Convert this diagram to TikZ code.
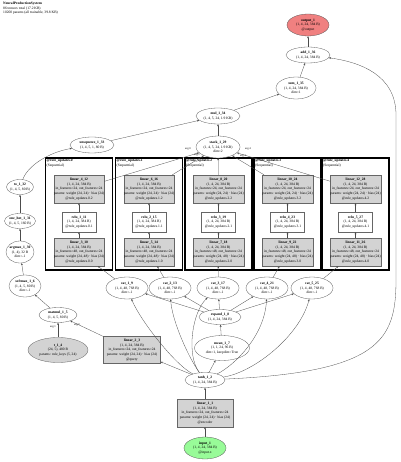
\documentclass[tikz,border=0pt]{standalone}
\usepackage{fontspec}
\setmainfont{Liberation Serif}
\usetikzlibrary{shapes.geometric,arrows.meta}
\definecolor{outred}{HTML}{F08080}
\definecolor{ingreen}{HTML}{98FB98}
\definecolor{lgray}{HTML}{D3D3D3}
\begin{document}
\begin{tikzpicture}[x=1pt,y=-1pt,
 font=\fontsize{3.6}{4.6}\selectfont,
 every node/.style={inner sep=0pt, align=center},
 ell/.style={ellipse, draw=black!65, line width=0.3pt, fill=white, inner sep=-1.2pt},
 lin/.style={rectangle, draw=black!60, line width=0.3pt, fill=lgray, minimum width=45pt, minimum height=28pt},
 relubox/.style={rectangle, draw=black!60, line width=0.3pt, fill=white, minimum width=34pt, minimum height=20pt},
 seqbox/.style={rectangle, draw=black, line width=1.1pt, minimum width=67pt, minimum height=112pt},
 edge/.style={draw=black!70, line width=0.3pt, -{Stealth[length=2.2pt,width=1.8pt]}},
 elab/.style={font=\fontsize{2.8}{3}\selectfont}]
\useasboundingbox (0,0) rectangle (400,462);

\node[anchor=north west, align=left] (title) at (3,2) {\textbf{NeuralProductionSystem}\\86 tensors total (17.2 KB)\\10200 params (all trainable, 39.8 KB)};

% sequential boxes
\foreach \i/\cx/\catx in {0/79/127,1/149/170,2/218.5/218,3/287.5/267,4/355.5/312}{
  \pgfmathtruncatemacro\ta{4+2*\i}
  \pgfmathtruncatemacro\tg{12+4*\i}
  \pgfmathtruncatemacro\ra{1+\i}
  \pgfmathtruncatemacro\rg{11+4*\i}
  \pgfmathtruncatemacro\ba{3+2*\i}
  \pgfmathtruncatemacro\bg{10+4*\i}
  \pgfmathtruncatemacro\ca{1+\i}
  \pgfmathtruncatemacro\cg{9+4*\i}
  \node[seqbox] (seq\i) at (\cx,214) {};
  \node[anchor=north west, align=left] (seqlab\i) at ([xshift=1.5pt,yshift=-1.5pt]seq\i.north west) {\textbf{@rule\_updates.\i}\\(Sequential)};
  \node[lin] (tl\i) at (\cx,189) {\textbf{linear\_\ta\_\tg}\\(1, 4, 24, 384 B)\\in\_features=24, out\_features=24\\params: weight (24, 24) · bias (24)\\@rule\_updates.\i.2};
  \node[relubox] (relu\i) at (\cx,222) {\textbf{relu\_\ra\_\rg}\\(1, 4, 24, 384 B)\\@rule\_updates.\i.1};
  \node[lin] (bl\i) at (\cx,252) {\textbf{linear\_\ba\_\bg}\\(1, 4, 24, 384 B)\\in\_features=48, out\_features=24\\params: weight (24, 48) · bias (24)\\@rule\_updates.\i.0};
  \node[ell, minimum width=42pt, minimum height=22pt] (cat\i) at (\catx,288) {\textbf{cat\_\ca\_\cg}\\(1, 4, 48, 768 B)\\dim=-1};
}

% other nodes
\node[ell, fill=outred, minimum width=42pt, minimum height=22pt] (output) at (308,25) {\textbf{output\_1}\\(1, 4, 24, 384 B)\\@output};
\node[ell, minimum width=44pt, minimum height=16pt] (add) at (308,55) {\textbf{add\_1\_36}\\(1, 4, 24, 384 B)};
\node[ell, minimum width=40pt, minimum height=22pt] (sum) at (296,88) {\textbf{sum\_1\_35}\\(1, 4, 24, 384 B)\\dim=1};
\node[ell, minimum width=44pt, minimum height=16pt] (mul) at (218,116) {\textbf{mul\_1\_34}\\(1, 4, 5, 24, 1.9 KB)};
\node[ell, minimum width=44pt, minimum height=22pt] (stack) at (218,147) {\textbf{stack\_1\_29}\\(1, 4, 5, 24, 1.9 KB)\\dim=2};
\node[ell, minimum width=44pt, minimum height=16pt] (unsq) at (92,145) {\textbf{unsqueeze\_1\_33}\\(1, 4, 5, 1, 80 B)};
\node[ell, minimum width=27pt, minimum height=15pt] (to) at (20,187) {\textbf{to\_1\_32}\\(1, 4, 5, 80 B)};
\node[ell, minimum width=31pt, minimum height=15pt] (onehot) at (20,221) {\textbf{one\_hot\_1\_31}\\(1, 4, 5, 160 B)};
\node[ell, minimum width=28pt, minimum height=22pt] (argmax) at (20,252) {\textbf{argmax\_1\_30}\\(1, 4), 32 B\\dim=-1};
\node[ell, minimum width=32pt, minimum height=22pt] (softmax) at (25,286) {\textbf{softmax\_1\_6}\\(1, 4, 5, 80 B)\\dim=-1};
\node[ell, minimum width=38pt, minimum height=15pt] (matmul) at (58,315) {\textbf{matmul\_1\_5}\\(1, 4, 5, 80 B)};
\node[ell, fill=lgray, minimum width=60pt, minimum height=25pt] (t) at (58,350) {\textbf{t\_1\_4}\\(24, 5), 480 B\\params: rule\_keys (5, 24)};
\node[lin, minimum width=57pt, minimum height=27pt] (query) at (132,350) {\textbf{linear\_2\_3}\\(1, 4, 24, 384 B)\\in\_features=24, out\_features=24\\params: weight (24, 24) · bias (24)\\@query};
\node[ell, minimum width=42pt, minimum height=15pt] (expand) at (220,317) {\textbf{expand\_1\_8}\\(1, 4, 24, 384 B)};
\node[ell, minimum width=55pt, minimum height=25pt] (mean) at (222,348) {\textbf{mean\_1\_7}\\(1, 1, 24, 96 B)\\dim=1, keepdim=True};
\node[ell, minimum width=40pt, minimum height=15pt] (tanh) at (205,380) {\textbf{tanh\_1\_2}\\(1, 4, 24, 384 B)};
\node[lin, minimum width=56pt, minimum height=28pt] (enc) at (205,413) {\textbf{linear\_1\_1}\\(1, 4, 24, 384 B)\\in\_features=24, out\_features=24\\params: weight (24, 24) · bias (24)\\@encoder};
\node[ell, fill=ingreen, minimum width=42pt, minimum height=22pt] (input) at (205,448) {\textbf{input\_1}\\(1, 4, 24, 384 B)\\@input.x};

% edges
\draw[edge] (input) -- (enc);
\draw[edge] (enc) -- (tanh);
\draw[edge] (tanh) -- (mean);
\draw[edge] (mean) -- (expand);
\draw[edge] (tanh) -- (query);
\draw[edge] (tanh) .. controls (175,365) and (140,320) .. (cat0);
\draw[edge] (tanh) .. controls (190,360) and (172,322) .. (cat1);
\draw[edge] (tanh) .. controls (186,355) and (192,312) .. (cat2);
\draw[edge] (tanh) .. controls (235,365) and (265,335) .. (cat3);
\draw[edge] (tanh) .. controls (255,372) and (300,335) .. (cat4);
\draw[edge] (tanh) .. controls (380,372) and (396,340) .. (396,280) -- (396,115) .. controls (396,75) and (360,62) .. (add);
\foreach \i in {0,...,4}{
  \draw[edge] (expand) -- (cat\i);
  \draw[edge] (cat\i) -- (bl\i);
  \draw[edge] (bl\i) -- (relu\i);
  \draw[edge] (relu\i) -- (tl\i);
  \draw[edge] (tl\i) -- (stack);
}
\draw[edge] (stack) -- (mul);
\draw[edge] (unsq) -- (mul);
\draw[edge] (mul) -- (sum);
\draw[edge] (sum) -- (add);
\draw[edge] (add) -- (output);
\draw[edge] (query) -- (matmul);
\draw[edge] (t) -- (matmul);
\draw[edge] (matmul) -- (softmax);
\draw[edge] (softmax) -- (argmax);
\draw[edge] (argmax) -- (onehot);
\draw[edge] (onehot) -- (to);
\draw[edge] (to) .. controls (28,165) and (50,152) .. (unsq);

% edge labels
\node[elab] (l1) at (53,327) {arg 1};
\node[elab] (l2) at (77,325) {arg 0};
\node[elab] (s0) at (188,149) {arg 0};
\node[elab] (s1) at (197,155) {arg 1};
\node[elab] (s3) at (243,156) {arg 3};
\node[elab] (s4) at (248,149) {arg 4};
\end{tikzpicture}
\end{document}
